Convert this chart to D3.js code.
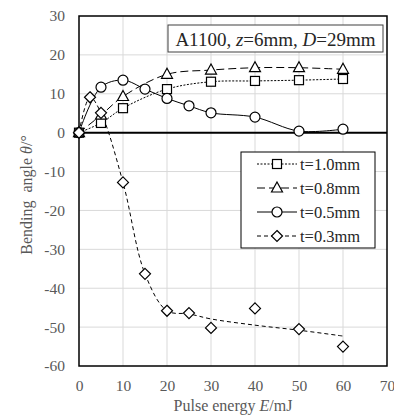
<!DOCTYPE html>
<html>
<head>
<meta charset="utf-8">
<script src="https://cdn.jsdelivr.net/npm/d3@7"></script>
<style>
  body { margin: 0; background: #fff; }
  svg text { font-family: "Liberation Serif", "Times New Roman", serif; }
  .tick-label { fill: #595959; font-size: 15.5px; }
  .axis-title { fill: #595959; font-size: 16px; }
</style>
</head>
<body>
<svg id="chart" width="394" height="419"></svg>
<script>
// data
const xTicks = [0, 10, 20, 30, 40, 50, 60, 70];
const yTicks = [-60, -50, -40, -30, -20, -10, 0, 10, 20, 30];

const energy10 = [0, 5, 10, 20, 30, 40, 50, 60];
const angle10 = [0, 2.5, 6.3, 11.2, 13.1, 13.3, 13.5, 13.8];

const energy08 = [0, 5, 10, 20, 30, 40, 50, 60];
const angle08 = [0, 4.5, 9.3, 15.0, 16.1, 16.7, 16.7, 16.3];

const energy05 = [0, 5, 10, 15, 20, 25, 30, 40, 50, 60];
const angle05 = [0, 11.7, 13.5, 11.2, 8.8, 6.9, 5.1, 4.0, 0.4, 0.9];

const energy03 = [0, 2.5, 5, 10, 15, 20, 25, 30, 40, 50, 60];
const angle03 = [0, 9.1, 5.1, -12.8, -36.3, -45.8, -46.4, -50.2, -45.2, -50.5, -55.0];
// t=0.3 drawn line follows a fitted curve, not the points after 25 mJ
const fitEnergy03 = [0, 2.5, 5, 10, 15, 20, 25, 30, 40, 50, 60];
const fitAngle03 = [0, 9.1, 5.1, -12.8, -36.3, -45.8, -46.6, -47.9, -49.5, -50.8, -52.3];

const series = [
  { name: 't=1.0mm', e: energy10, a: angle10, le: energy10, la: angle10, marker: 'square', dash: '2,1.5' },
  { name: 't=0.8mm', e: energy08, a: angle08, le: energy08, la: angle08, marker: 'triangle', dash: '8,4' },
  { name: 't=0.5mm', e: energy05, a: angle05, le: energy05, la: angle05, marker: 'circle', dash: null },
  { name: 't=0.3mm', e: energy03, a: angle03, le: fitEnergy03, la: fitAngle03, marker: 'diamond', dash: '4,3' }
];

const margin = { top: 16, right: 7, bottom: 53, left: 79 };
const svg = d3.select('#chart');
const width = 394 - margin.left - margin.right;
const height = 419 - margin.top - margin.bottom;

const x = d3.scaleLinear().domain([0, 70]).range([0, width]);
const y = d3.scaleLinear().domain([-60, 30]).range([height, 0]);

const g = svg.append('g')
  .attr('transform', 'translate(' + margin.left + ',' + margin.top + ')');

// grid
g.append('g').selectAll('line').data(xTicks.slice(1, -1)).enter().append('line')
  .attr('x1', d => x(d)).attr('x2', d => x(d))
  .attr('y1', 0).attr('y2', height)
  .attr('stroke', '#d9d9d9').attr('stroke-width', 1);
g.append('g').selectAll('line').data(yTicks.slice(1, -1)).enter().append('line')
  .attr('x1', 0).attr('x2', width)
  .attr('y1', d => y(d)).attr('y2', d => y(d))
  .attr('stroke', '#d9d9d9').attr('stroke-width', 1);

// axes labels (no tick marks)
const xAxis = d3.axisBottom(x).tickValues(xTicks).tickSize(0).tickPadding(14).tickFormat(d => String(d));
const yAxis = d3.axisLeft(y).tickValues(yTicks).tickSize(0).tickPadding(14).tickFormat(d => String(d));

const gx = g.append('g').attr('transform', 'translate(0,' + height + ')').call(xAxis);
const gy = g.append('g').call(yAxis);
[gx, gy].forEach(a => {
  a.attr('font-family', null).attr('font-size', null);
  a.select('.domain').remove();
  a.selectAll('text').attr('class', 'tick-label')
    .style('font-family', '"Liberation Serif", serif');
});

// frame and zero line
g.append('rect').attr('x', 0).attr('y', 0).attr('width', width).attr('height', height)
  .attr('fill', 'none').attr('stroke', '#000').attr('stroke-width', 1.5);
g.append('line').attr('x1', 0).attr('x2', width).attr('y1', y(0)).attr('y2', y(0))
  .attr('stroke', '#000').attr('stroke-width', 2);

function drawMarker(sel, type) {
  if (type === 'square') {
    sel.append('rect').attr('x', -4.5).attr('y', -4.5).attr('width', 9).attr('height', 9);
  } else if (type === 'circle') {
    sel.append('circle').attr('r', 5);
  } else if (type === 'triangle') {
    sel.append('path').attr('d', 'M0,-6L5.5,4L-5.5,4Z');
  } else {
    sel.append('path').attr('d', 'M0,-5.5L5.5,0L0,5.5L-5.5,0Z');
  }
  sel.selectAll('*').attr('fill', '#fff').attr('stroke', '#000').attr('stroke-width', 1.2);
}

const line = d3.line().x(d => x(d[0])).y(d => y(d[1])).curve(d3.curveCatmullRom.alpha(0.5));

series.forEach(s => {
  const pts = s.le.map((e, i) => [e, s.la[i]]);
  g.append('path').datum(pts).attr('d', line)
    .attr('fill', 'none').attr('stroke', '#000').attr('stroke-width', 1)
    .attr('stroke-dasharray', s.dash);
});

series.forEach(s => {
  const marks = g.append('g').selectAll('g').data(s.e.map((e, i) => [e, s.a[i]])).enter().append('g')
    .attr('transform', d => 'translate(' + x(d[0]) + ',' + y(d[1]) + ')');
  drawMarker(marks, s.marker);
});

// annotation box
const ann = svg.append('g');
ann.append('rect').attr('x', 168).attr('y', 25).attr('width', 215).attr('height', 27)
  .attr('fill', '#fff').attr('stroke', '#404040').attr('stroke-width', 1);
const annText = ann.append('text').attr('x', 275.5).attr('y', 45.5)
  .attr('text-anchor', 'middle').attr('font-size', 19).attr('fill', '#262626');
annText.append('tspan').text('A1100, ');
annText.append('tspan').attr('font-style', 'italic').text('z');
annText.append('tspan').text('=6mm, ');
annText.append('tspan').attr('font-style', 'italic').text('D');
annText.append('tspan').text('=29mm');

// legend
const legend = svg.append('g');
legend.append('rect').attr('x', 241).attr('y', 152).attr('width', 134).attr('height', 96)
  .attr('fill', '#fff').attr('stroke', '#000').attr('stroke-width', 1);
series.forEach((s, i) => {
  const ly = 164 + i * 24;
  legend.append('line').attr('x1', 257).attr('x2', 297).attr('y1', ly).attr('y2', ly)
    .attr('stroke', '#000').attr('stroke-width', 1).attr('stroke-dasharray', s.dash);
  const m = legend.append('g').attr('transform', 'translate(277,' + ly + ')');
  drawMarker(m, s.marker);
  legend.append('text').attr('x', 300).attr('y', ly + 5.5).attr('font-size', 16.5)
    .attr('fill', '#262626').text(s.name);
});

// axis titles
const xt = svg.append('text').attr('class', 'axis-title')
  .attr('x', margin.left + width / 2).attr('y', 411).attr('text-anchor', 'middle');
xt.append('tspan').text('Pulse energy ');
xt.append('tspan').attr('font-style', 'italic').text('E');
xt.append('tspan').text('/mJ');

const yt = svg.append('text').attr('class', 'axis-title')
  .attr('transform', 'translate(32,' + (margin.top + height / 2 + 4) + ') rotate(-90)')
  .attr('text-anchor', 'middle');
yt.append('tspan').text('Bending\u00a0 angle ');
yt.append('tspan').attr('font-style', 'italic').text('θ');
yt.append('tspan').text('/°');
</script>
</body>
</html>
